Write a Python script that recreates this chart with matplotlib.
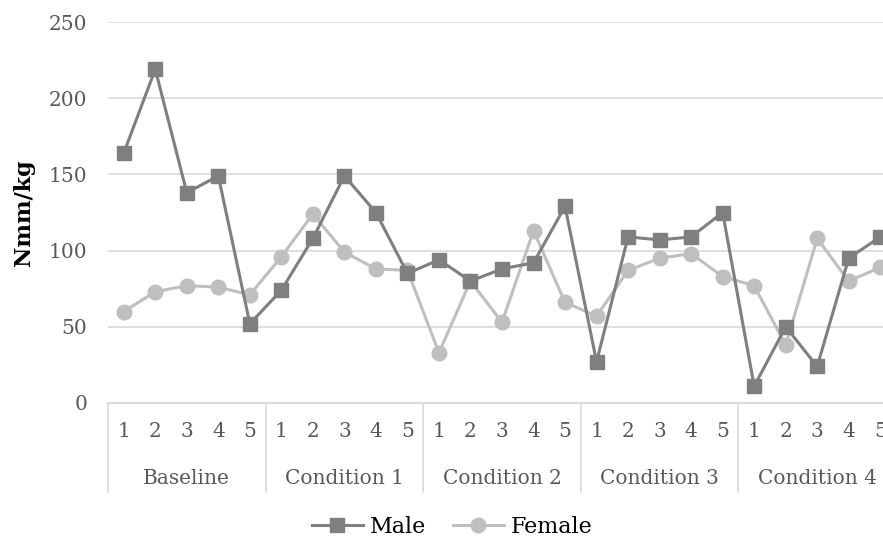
import matplotlib
matplotlib.use("Agg")
import matplotlib.pyplot as plt
import matplotlib.transforms as mtransforms

# --- datos ---
grupos = ["Baseline", "Condition 1", "Condition 2", "Condition 3", "Condition 4"]
sesiones = ["1", "2", "3", "4", "5"]

male = [164, 219, 138, 149, 52,
        74, 108, 149, 125, 85,
        94, 80, 88, 92, 129,
        27, 109, 107, 109, 125,
        11, 50, 24, 95, 109]

female = [60, 73, 77, 76, 71,
          96, 124, 99, 88, 87,
          33, 80, 53, 113, 66,
          57, 87, 95, 98, 83,
          77, 38, 108, 80, 89]

y_ticks = [0, 50, 100, 150, 200, 250]

# --- figura ---
W, H = 883, 542
fig = plt.figure(figsize=(W / 100, H / 100), dpi=100)
plt.rcParams["font.family"] = ["DejaVu Serif"]

izq, der, arriba, abajo = 108, 896, 22, 403
ax = fig.add_axes([izq / W, 1 - abajo / H, (der - izq) / W, (abajo - arriba) / H])

n = len(grupos) * len(sesiones)
x = list(range(n))

ax.plot(x, male, color="#7f7f7f", lw=2.2, marker="s", markersize=10,
        label="Male", zorder=3, clip_on=False)
ax.plot(x, female, color="#bfbfbf", lw=2.2, marker="o", markersize=10.5,
        label="Female", zorder=2, clip_on=False)

ax.set_xlim(-0.5, n - 0.5)
ax.set_ylim(0, 250)
ax.set_yticks(y_ticks)
ax.set_yticklabels([str(v) for v in y_ticks])
ax.grid(axis="y", color="#d9d9d9", lw=1.2)
ax.set_axisbelow(True)

for lado in ["top", "right", "left"]:
    ax.spines[lado].set_visible(False)
ax.spines["bottom"].set_color("#d9d9d9")
ax.spines["bottom"].set_linewidth(1.2)

ax.tick_params(axis="y", length=0, pad=15, labelsize=14.5, labelcolor="#595959")
ax.set_xticks(x)
ax.set_xticklabels(sesiones * len(grupos))
ax.tick_params(axis="x", length=0, pad=14, labelsize=14.5, labelcolor="#595959")

# eje de categorías de dos niveles
trans = mtransforms.blended_transform_factory(ax.transData, ax.transAxes)
alto_ax = abajo - arriba
fondo_sep = -(492 - abajo) / alto_ax
y_grupo = -(479 - abajo) / alto_ax
for i, g in enumerate(grupos):
    centro = i * len(sesiones) + (len(sesiones) - 1) / 2
    ax.text(centro, y_grupo, g, transform=trans, ha="center", va="center",
            fontsize=14.5, color="#595959")
for i in range(len(grupos) + 1):
    xs = i * len(sesiones) - 0.5
    ax.plot([xs, xs], [0, fondo_sep], transform=trans, color="#d9d9d9",
            lw=1.2, clip_on=False)

fig.text(24 / W, 1 - 213 / H, "Nmm/kg", rotation=90, ha="center", va="center",
         fontsize=16, fontweight="bold", color="black")

fig.legend(loc="center", bbox_to_anchor=(452 / W, 1 - 527 / H), ncol=2,
           frameon=False, fontsize=16, handlelength=2.3, handletextpad=0.3,
           columnspacing=1.2)

fig.savefig("out.png", dpi=100)
